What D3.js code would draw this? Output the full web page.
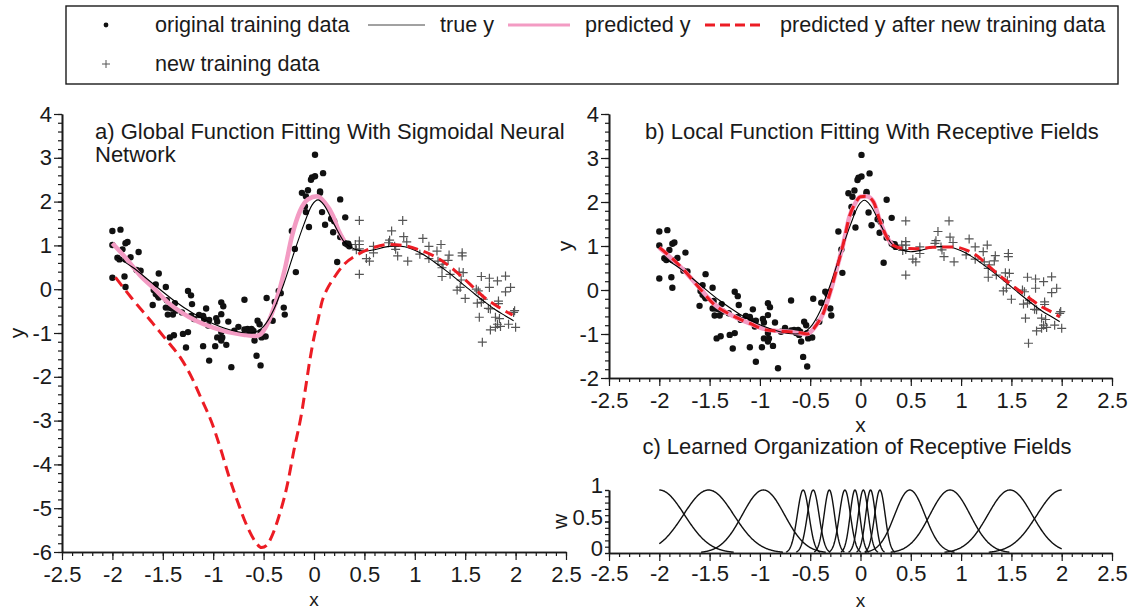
<!DOCTYPE html>
<html>
<head>
<meta charset="utf-8">
<script src="https://cdn.jsdelivr.net/npm/d3@7"></script>
<style>
body { margin: 0; background: #fff; }
svg { display: block; font-family: "Liberation Sans", Arial, sans-serif; }
</style>
</head>
<body>
<svg id="chart" width="1133" height="611"></svg>
<script>
// ---- data ----
let originalTraining = [
    [-2.00,1.33],[-1.92,1.36],[-2.00,1.01],[-1.87,1.05],[-1.85,1.08],[-1.95,0.72],[-1.90,0.91],[-1.93,0.68],
    [-1.87,0.68],[-1.82,0.73],[-1.74,0.85],[-2.00,0.26],[-1.88,0.29],[-1.87,0.05],[-1.76,0.44],[-1.72,0.42],
    [-1.54,0.36],[-1.57,0.11],[-1.59,-0.02],[-1.47,0.05],[-1.57,-0.11],[-1.54,-0.19],[-1.46,-0.25],[-1.60,-0.36],
    [-1.38,-0.32],[-1.47,-0.42],[-1.44,-0.42],[-1.41,-0.44],[-1.45,-0.58],[-1.40,-0.58],[-1.31,-0.53],[-1.25,-0.04],
    [-1.22,-0.14],[-1.21,-0.34],[-1.22,-0.61],[-1.19,-0.68],[-1.25,-0.98],[-1.30,-1.02],[-1.39,-1.05],[-1.43,-1.10],
    [-1.27,-1.33],[-1.14,-0.59],[-1.10,-0.61],[-1.07,-0.44],[-1.09,-0.68],[-1.04,-0.70],[-1.05,-0.83],[-1.10,-1.30],
    [-1.04,-1.63],[-0.97,-0.66],[-0.96,-0.74],[-0.92,-0.57],[-0.92,-0.30],[-0.90,-0.39],[-0.85,-0.74],[-0.92,-0.98],
    [-0.96,-1.10],[-0.91,-1.10],[-0.92,-1.17],[-0.98,-1.30],[-0.87,-1.27],[-0.82,-1.78],[-0.79,-0.95],[-0.75,-0.86],
    [-0.69,-0.24],[-0.69,-0.92],[-0.66,-0.91],[-0.62,-0.91],[-0.56,-0.72],[-0.54,-0.80],[-0.61,-1.02],[-0.59,-1.17],
    [-0.57,-1.52],[-0.53,-1.74],[-0.53,-0.98],[-1.55,-0.15],[-1.37,-0.49],[-0.60,-0.95],[-0.64,-0.98],
    [-0.52,-1.10],[-0.48,-1.08],[-0.47,-0.20],[-0.41,-0.72],[-0.39,-0.29],[-0.35,-0.04],[-0.33,-0.09],[-0.30,-0.42],
    [-0.29,-0.58],[-0.22,1.33],[-0.19,0.92],[-0.18,0.39],[-0.12,2.20],[-0.08,2.12],[-0.09,1.89],[-0.08,1.76],
    [-0.05,1.42],[-0.06,2.26],[-0.03,2.50],[-0.02,2.55],[0.01,2.58],[0.01,3.07],[0.09,2.65],[0.06,2.23],
    [0.06,2.20],[0.08,1.76],[0.11,1.47],[0.17,1.61],[0.20,1.55],[0.19,1.30],[0.26,2.05],[0.31,1.64],
    [0.26,1.19],[0.31,1.05],[0.33,1.02],[0.35,0.98],[0.34,1.04],[0.23,0.62]
];

let newTraining = [
    [0.45,1.57],[0.88,1.57],[0.77,1.33],[0.45,1.10],[0.45,1.02],[0.45,0.92],[0.52,0.70],[0.55,0.64],
    [0.45,0.34],[0.59,0.98],[0.59,0.83],[0.74,1.06],[0.75,1.12],[0.80,0.98],[0.81,0.91],[0.83,0.76],
    [0.89,1.20],[0.93,0.64],[0.92,1.08],[1.08,1.16],[1.05,0.80],[1.14,0.98],[1.14,0.70],[1.22,0.87],
    [1.26,1.02],[1.23,0.64],[1.28,0.57],[1.33,0.66],[1.27,0.49],[1.27,0.29],[1.35,0.34],[1.47,0.83],
    [1.47,0.76],[1.44,0.39],[1.48,0.38],[1.46,0.21],[1.42,-0.02],[1.45,0.04],[1.50,-0.21],[1.61,0.00],
    [1.63,-0.04],[1.62,-0.32],[1.66,0.29],[1.74,0.25],[1.74,0.04],[1.68,-0.23],[1.66,-0.30],[1.82,0.19],
    [1.90,0.30],[1.95,0.04],[1.90,-0.06],[1.73,-0.44],[1.75,-0.45],[1.83,-0.27],[1.83,-0.33],[1.64,-0.64],
    [1.80,-0.64],[1.84,-0.67],[1.82,-0.80],[1.85,-0.85],[1.80,-0.87],[1.75,-0.93],[1.93,-0.80],[2.00,-0.87],
    [1.99,-0.49],[1.98,-0.53],[1.67,-1.21],[0.41,1.02],[0.42,0.90],[1.34,0.78]
];

let trueY = [
    [-1.97,0.75],[-1.8,0.5],[-1.6,0.13],[-1.4,-0.24],[-1.2,-0.55],[-1.0,-0.79],[-0.8,-0.95],[-0.65,-1.0],
    [-0.57,-0.97],[-0.5,-0.85],[-0.4,-0.47],[-0.3,0.12],[-0.2,0.82],[-0.1,1.48],[-0.02,1.92],[0.04,2.04],
    [0.1,1.92],[0.2,1.48],[0.3,1.08],[0.4,0.92],[0.5,0.87],[0.6,0.9],[0.7,0.96],[0.8,0.99],[0.9,0.97],
    [1.0,0.89],[1.1,0.77],[1.2,0.61],[1.3,0.44],[1.4,0.26],[1.5,0.07],[1.6,-0.12],[1.7,-0.3],[1.8,-0.47],
    [1.9,-0.61],[1.98,-0.72]
];

// panel a: sigmoidal network
let predictedNN = [
    [-2.0,1.05],[-1.87,0.72],[-1.72,0.30],[-1.57,-0.02],[-1.45,-0.30],[-1.3,-0.55],[-1.17,-0.72],[-1.0,-0.88],
    [-0.85,-0.98],[-0.7,-1.04],[-0.58,-1.07],[-0.53,-1.03],[-0.47,-0.83],[-0.38,-0.30],[-0.29,0.45],[-0.22,1.2],
    [-0.14,1.78],[-0.06,2.05],[0.03,2.12],[0.11,1.97],[0.19,1.67],[0.24,1.36],[0.30,1.10]
];
let predictedNNAfter = [
    [-1.97,0.27],[-1.81,-0.2],[-1.61,-0.75],[-1.45,-1.2],[-1.32,-1.58],[-1.21,-2.03],[-1.12,-2.49],[-1.02,-3.01],
    [-0.93,-3.62],[-0.84,-4.30],[-0.75,-4.90],[-0.66,-5.43],[-0.58,-5.77],[-0.52,-5.9],[-0.47,-5.85],[-0.42,-5.65],
    [-0.35,-5.20],[-0.27,-4.52],[-0.20,-3.69],[-0.12,-2.79],[-0.08,-2.2],[-0.04,-1.6],[0.0,-1.1],[0.04,-0.7],
    [0.08,-0.28],[0.13,0.0],[0.19,0.23],[0.30,0.57],[0.44,0.80],[0.59,0.95],[0.74,1.02],[0.88,1.0],[1.03,0.91],
    [1.22,0.72],[1.40,0.42],[1.55,0.11],[1.69,-0.19],[1.84,-0.42],[1.97,-0.59]
];

// panel b: receptive fields
let predictedRF = [
    [-2.0,0.96],[-1.77,0.48],[-1.6,0.05],[-1.45,-0.33],[-1.3,-0.55],[-1.1,-0.76],[-0.93,-0.9],[-0.71,-0.95],
    [-0.53,-1.0],[-0.44,-0.8],[-0.37,-0.53],[-0.3,-0.04],[-0.24,0.45],[-0.17,1.06],[-0.11,1.67],[-0.05,1.98],
    [0.0,2.12],[0.06,2.13],[0.13,2.0],[0.19,1.59],[0.26,1.21],[0.32,1.02]
];
let predictedRFAfter = [
    [-2.0,0.97],[-1.77,0.49],[-1.6,0.04],[-1.45,-0.34],[-1.3,-0.55],[-1.1,-0.76],[-0.93,-0.91],[-0.71,-0.95],
    [-0.6,-0.97],[-0.53,-1.0],[-0.48,-0.92],[-0.44,-0.8],[-0.37,-0.53],[-0.3,-0.04],[-0.24,0.45],[-0.17,1.06],
    [-0.11,1.67],[-0.05,1.98],[0.0,2.12],[0.06,2.13],[0.13,2.0],[0.19,1.59],[0.26,1.21],[0.32,1.02],[0.42,0.95],
    [0.55,0.94],[0.72,0.97],[0.92,0.98],[1.06,0.9],[1.15,0.79],[1.25,0.6],[1.32,0.45],[1.4,0.3],[1.48,0.15],
    [1.6,-0.05],[1.7,-0.22],[1.8,-0.38],[1.9,-0.5],[1.98,-0.61]
];

// panel c: receptive field centres and widths
let rfCenters = [-2.0, -1.51, -0.965, -0.57, -0.47, -0.31, -0.155, -0.055, 0.028, 0.10, 0.193, 0.49, 0.89, 1.486, 2.0];
let rfWidths  = [0.25, 0.25, 0.21, 0.058, 0.058, 0.052, 0.055, 0.048, 0.05, 0.048, 0.052, 0.15, 0.2, 0.22, 0.245];

let xTicks = [-2.5, -2, -1.5, -1, -0.5, 0, 0.5, 1, 1.5, 2, 2.5];
let yTicksA = [-6, -5, -4, -3, -2, -1, 0, 1, 2, 3, 4];
let yTicksB = [-2, -1, 0, 1, 2, 3, 4];
let wTicks = [0, 0.5, 1];

// ---- drawing ----
let svg = d3.select('#chart');
let red = '#ec1c24', pink = '#f39bc3', ink = '#1a1a1a';

function makeAxes(p) {
    let x = d3.scaleLinear().domain([-2.5, 2.5]).range([p.left, p.right]);
    let y = d3.scaleLinear().domain(p.yDomain).range([p.bottom, p.top]);
    let g = svg.append('g');

    let xMinor = d3.range(-2.5, 2.5001, 0.1);
    let yMinor = d3.range(p.yDomain[0], p.yDomain[1] + 0.0001, p.yMinorStep);

    g.append('g').attr('transform', 'translate(0,' + p.bottom + ')')
        .call(d3.axisBottom(x).tickValues(xMinor).tickSize(4).tickSizeOuter(0).tickFormat(''));
    g.append('g').attr('transform', 'translate(0,' + p.bottom + ')')
        .call(d3.axisBottom(x).tickValues(xTicks).tickSize(8).tickSizeOuter(0).tickPadding(p.xPad)
            .tickFormat(d => String(d)));
    g.append('g').attr('transform', 'translate(' + p.left + ',0)')
        .call(d3.axisLeft(y).tickValues(yMinor).tickSize(4).tickSizeOuter(0).tickFormat(''));
    let yAx = g.append('g').attr('transform', 'translate(' + p.left + ',0)')
        .call(d3.axisLeft(y).tickValues(p.yTicks).tickSize(p.yTickSize).tickSizeOuter(0).tickPadding(2)
            .tickFormat(d => String(d)));
    if (p.yDy) yAx.selectAll('.tick text').attr('dy', p.yDy);

    g.selectAll('.domain').attr('stroke', ink).attr('stroke-width', 1.6);
    g.selectAll('.tick line').attr('stroke', ink).attr('stroke-width', 1.2);
    g.selectAll('.tick text').attr('fill', ink).attr('font-size', 22)
        .attr('font-family', '"Liberation Sans", Arial, sans-serif');

    // axis titles
    svg.append('text').attr('x', (p.left + p.right) / 2).attr('y', p.xLabelY)
        .attr('text-anchor', 'middle').attr('font-size', p.xLabelSize).attr('fill', ink).text('x');
    svg.append('text').attr('transform', 'translate(' + p.yLabelX + ',' + (p.top + p.bottom) / 2 + ') rotate(-90)')
        .attr('text-anchor', 'middle').attr('font-size', 21).attr('fill', ink).text(p.yName);
    return {x: x, y: y};
}

function drawScatter(s) {
    svg.append('g').selectAll('path').data(newTraining).join('path')
        .attr('d', d => 'M' + (s.x(d[0]) - 4.5) + ',' + s.y(d[1]) + 'h9M' + s.x(d[0]) + ',' + (s.y(d[1]) - 4.5) + 'v9')
        .attr('stroke', '#555').attr('stroke-width', 1.2).attr('fill', 'none');
    svg.append('g').selectAll('circle').data(originalTraining).join('circle')
        .attr('cx', d => s.x(d[0])).attr('cy', d => s.y(d[1])).attr('r', 3.2).attr('fill', '#111');
}

function drawLine(s, data, color, width, dash) {
    let line = d3.line().x(d => s.x(d[0])).y(d => s.y(d[1])).curve(d3.curveMonotoneX);
    svg.append('path').datum(data).attr('d', line)
        .attr('fill', 'none').attr('stroke', color).attr('stroke-width', width)
        .attr('stroke-dasharray', dash || null).attr('stroke-linejoin', 'round');
}

// panel a
let sa = makeAxes({left: 62, right: 566, top: 114, bottom: 552, yDomain: [-6, 4], yTicks: yTicksA,
    yMinorStep: 0.2, yTickSize: 8, xPad: 6, xLabelY: 606, xLabelSize: 19, yLabelX: 24, yName: 'y'});
drawScatter(sa);
drawLine(sa, predictedNN, pink, 4.5);
drawLine(sa, trueY, '#000', 1.1);
drawLine(sa, predictedNNAfter, red, 3, '11,6');
svg.append('text').attr('x', 95).attr('y', 139).attr('font-size', 22).attr('fill', ink)
    .text('a) Global Function Fitting With Sigmoidal Neural');
svg.append('text').attr('x', 95).attr('y', 162).attr('font-size', 22).attr('fill', ink).text('Network');

// panel b
let sb = makeAxes({left: 609, right: 1112, top: 114, bottom: 378, yDomain: [-2, 4], yTicks: yTicksB,
    yMinorStep: 0.2, yTickSize: 8, xPad: 6, xLabelY: 432, xLabelSize: 21, yLabelX: 572, yName: 'y'});
drawScatter(sb);
drawLine(sb, predictedRF, pink, 4.5);
drawLine(sb, trueY, '#000', 1.1);
drawLine(sb, predictedRFAfter, red, 3, '11,6');
svg.append('text').attr('x', 645).attr('y', 139).attr('font-size', 22).attr('fill', ink)
    .text('b) Local Function Fitting With Receptive Fields');

// panel c
let sc = makeAxes({left: 609, right: 1112, top: 490, bottom: 553, yDomain: [0, 1], yTicks: wTicks,
    yMinorStep: 0.1, yTickSize: 4, yDy: '0.12em', xPad: 4, xLabelY: 607, xLabelSize: 19, yLabelX: 567, yName: 'w'});
svg.append('text').attr('x', 857).attr('y', 454).attr('text-anchor', 'middle').attr('font-size', 22).attr('fill', ink)
    .text('c) Learned Organization of Receptive Fields');

let xs = d3.range(-2, 2.0001, 0.005);
rfCenters.forEach(function(c, i) {
    let pts = xs.map(function(x) {
        let d = (x - c) / rfWidths[i];
        return [x, Math.exp(-0.5 * d * d)];
    }).filter(p => p[1] > 0.012);
    svg.append('path').datum(pts)
        .attr('d', d3.line().x(d => sc.x(d[0])).y(d => sc.y(d[1])))
        .attr('fill', 'none').attr('stroke', '#111').attr('stroke-width', 1.4);
});

// legend
let lg = svg.append('g');
lg.append('rect').attr('x', 66).attr('y', 6).attr('width', 1052).attr('height', 78)
    .attr('fill', 'none').attr('stroke', ink).attr('stroke-width', 1.4);
lg.append('circle').attr('cx', 106).attr('cy', 25).attr('r', 2.4).attr('fill', '#111');
lg.append('path').attr('d', 'M102,64h8M106,60v8').attr('stroke', '#555').attr('stroke-width', 1);
lg.append('line').attr('x1', 368).attr('x2', 425).attr('y1', 25).attr('y2', 25).attr('stroke', '#444').attr('stroke-width', 1);
lg.append('line').attr('x1', 508).attr('x2', 570).attr('y1', 25).attr('y2', 25).attr('stroke', pink).attr('stroke-width', 3);
lg.append('line').attr('x1', 705).attr('x2', 765).attr('y1', 25).attr('y2', 25).attr('stroke', red)
    .attr('stroke-width', 3).attr('stroke-dasharray', '10,5');
let legendText = [
    ['original training data', 155, 32], ['true y', 440, 32], ['predicted y', 585, 32],
    ['predicted y after new training data', 780, 32], ['new training data', 155, 71]
];
lg.selectAll('text.lab').data(legendText).join('text').attr('class', 'lab')
    .attr('x', d => d[1]).attr('y', d => d[2]).attr('font-size', 21.6).attr('fill', ink).text(d => d[0]);
</script>
</body>
</html>
